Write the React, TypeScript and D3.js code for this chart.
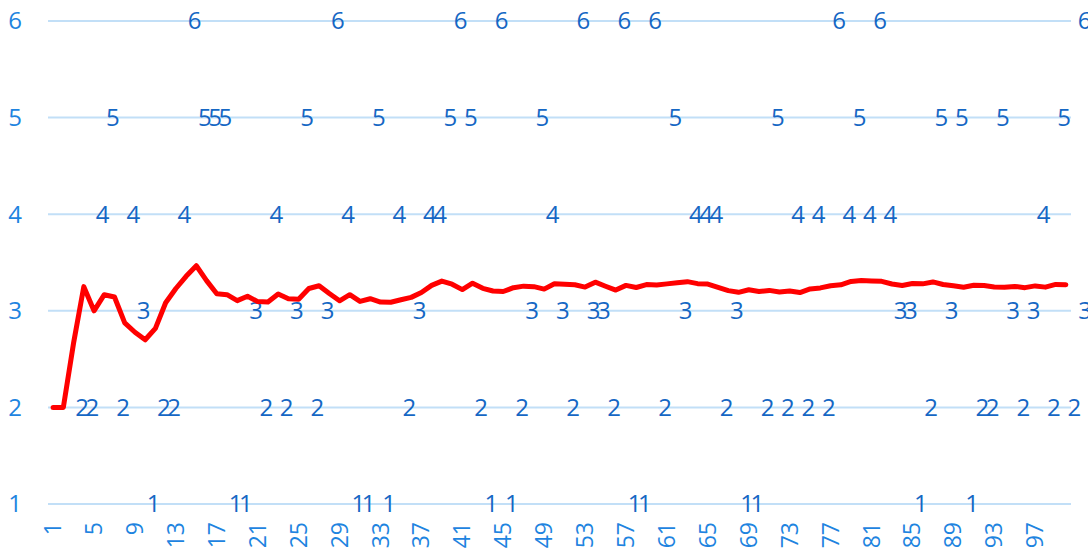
import React from 'react';
import * as d3 from 'd3';

// die rolls, one per throw
const rolls = [
  2, 2, 4, 5, 2, 4, 3, 1, 2, 2,
  4, 6, 5, 5, 5, 1, 1, 3, 2, 4,
  2, 3, 5, 2, 3, 6, 4, 1, 1, 5,
  1, 4, 2, 3, 4, 4, 5, 6, 5, 2,
  1, 6, 1, 2, 3, 5, 4, 3, 2, 6,
  3, 3, 2, 6, 1, 1, 6, 2, 5, 3,
  4, 4, 4, 2, 3, 1, 1, 2, 5, 2,
  4, 2, 4, 2, 6, 4, 5, 4, 6, 4,
  3, 3, 1, 2, 5, 3, 5, 1, 2, 2,
  5, 3, 2, 3, 4, 2, 5, 2, 6, 3,
];
const throws = rolls.map((_, i) => i + 1);
const yTicks = [1, 2, 3, 4, 5, 6];
const xTicks = throws.filter((t) => (t - 1) % 4 === 0);

// running mean of the rolls = the red line
const runningMean = Array.from(d3.cumsum(rolls), (s, i) => s / (i + 1));

const W = 1088;
const H = 554;
const FONT = '"Open Sans", "Noto Sans", sans-serif';

export default function App() {
  const x = d3.scaleBand<number>().domain(throws).range([48, 1071]).padding(0);
  const y = d3.scaleLinear().domain([1, 6]).range([504, 21]);
  const cx = (t: number) => (x(t) as number) + x.bandwidth() / 2;

  const line = d3
    .line<number>()
    .x((_, i) => cx(throws[i]))
    .y((d) => y(d));

  // labels sit to the right of their point, but are kept inside the chart box
  const labelShift = 29;
  const labelX = (t: number) => Math.min(cx(t) + labelShift, W - 3);

  return (
    <svg width={W} height={H} style={{ position: 'absolute', left: 0, top: 0, background: '#fff' }} fontFamily={FONT}>
      {yTicks.map((t) => (
        <g key={'g' + t}>
          <line x1={48} x2={1071} y1={y(t)} y2={y(t)} stroke="#c2dff7" strokeWidth={2} />
          <text x={15} y={y(t)} dy="0.35em" textAnchor="middle" fontSize={24} fill="#1e84e0">
            {t}
          </text>
        </g>
      ))}
      {xTicks.map((t) => (
        <text
          key={'x' + t}
          transform={`translate(${cx(t)},522) rotate(-90)`}
          dy="0.35em"
          textAnchor="end"
          fontSize={23}
          fill="#1e84e0"
        >
          {t}
        </text>
      ))}
      {rolls.map((v, i) => (
        <text
          key={'r' + i}
          x={labelX(throws[i])}
          y={y(v)}
          dy="0.35em"
          textAnchor="middle"
          fontSize={24}
          fill="#1567c4"
        >
          {v}
        </text>
      ))}
      <path
        d={line(runningMean) || ''}
        fill="none"
        stroke="#ff0000"
        strokeWidth={5}
        strokeLinejoin="round"
        strokeLinecap="round"
      />
    </svg>
  );
}
